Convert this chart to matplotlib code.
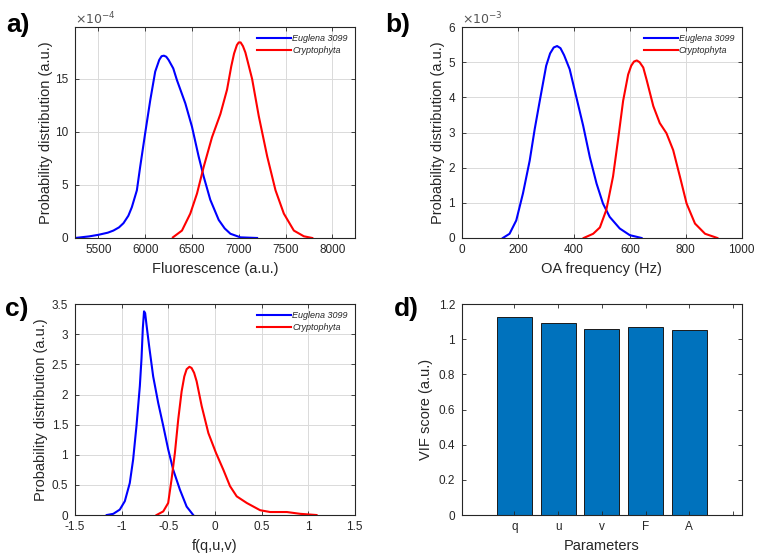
import numpy as np
import matplotlib
matplotlib.use('Agg')
import matplotlib.pyplot as plt
from matplotlib.ticker import FuncFormatter

plt.rcParams['font.family'] = ['Liberation Sans', 'DejaVu Sans']

# a) fluorescence, y in units of 1e-4
fl_eug_x = [5250, 5400, 5500, 5600, 5660, 5720, 5768, 5820, 5857, 5911, 5946, 6000, 6054, 6107,
            6150, 6175, 6200, 6225, 6250, 6300, 6339, 6429, 6500, 6571, 6625, 6696, 6786, 6850,
            6911, 7018, 7196]
fl_eug_y = [0, 0.15, 0.3, 0.5, 0.7, 1.0, 1.4, 2.1, 2.9, 4.5, 6.7, 9.9, 13, 15.7,
            16.8, 17.15, 17.2, 17.1, 16.8, 16.0, 14.9, 12.7, 10.5, 7.7, 5.8, 3.6, 1.7, 0.9,
            0.4, 0.06, 0]
fl_cry_x = [6296, 6393, 6482, 6554, 6625, 6714, 6804, 6875, 6920, 6950, 6980, 7000, 7020, 7045,
            7071, 7100, 7143, 7214, 7304, 7393, 7482, 7589, 7696, 7786]
fl_cry_y = [0.06, 0.7, 2.3, 4.2, 6.7, 9.5, 11.7, 14, 16.2, 17.4, 18.2, 18.45, 18.45, 18.1,
            17.5, 16.5, 15, 11.5, 7.7, 4.5, 2.3, 0.7, 0.16, 0]

# b) OA frequency, y in units of 1e-3
oa_eug_x = [146, 170, 194, 218, 242, 260, 278, 301, 315, 328, 340, 352, 365, 385, 409, 433,
            457, 481, 504, 528, 564, 600, 642]
oa_eug_y = [0, 0.12, 0.5, 1.27, 2.2, 3.1, 3.9, 4.9, 5.25, 5.42, 5.46, 5.4, 5.2, 4.8, 4.0, 3.2,
            2.3, 1.55, 0.98, 0.6, 0.27, 0.08, 0]
oa_cry_x = [435, 469, 493, 516, 540, 558, 576, 594, 605, 615, 625, 635, 648, 660, 684, 707,
            731, 755, 779, 803, 833, 869, 913]
oa_cry_y = [0, 0.12, 0.3, 0.8, 1.75, 2.8, 3.9, 4.65, 4.9, 5.02, 5.05, 5.0, 4.85, 4.5, 3.75, 3.27,
            2.98, 2.5, 1.75, 0.98, 0.41, 0.12, 0]

# c) f(q,u,v)
f_eug_x = [-1.16, -1.09, -1.02, -0.966, -0.913, -0.877, -0.841, -0.805, -0.787, -0.773,
           -0.76, -0.748, -0.733, -0.705, -0.662, -0.608, -0.554, -0.501, -0.447, -0.375,
           -0.303, -0.232]
f_eug_y = [0, 0.02, 0.09, 0.23, 0.53, 0.92, 1.48, 2.14, 2.6, 3.1,
           3.38, 3.35, 3.15, 2.8, 2.3, 1.86, 1.48, 1.09, 0.75, 0.42,
           0.14, 0]
f_cry_x = [-0.626, -0.554, -0.501, -0.465, -0.429, -0.393, -0.357, -0.328, -0.303, -0.273,
           -0.25, -0.223, -0.196, -0.142, -0.07, 0.012, 0.091, 0.162, 0.234, 0.342, 0.485,
           0.592, 0.772, 0.915, 1.09]
f_cry_y = [0, 0.06, 0.2, 0.59, 1.03, 1.59, 2.05, 2.3, 2.42, 2.46,
           2.44, 2.36, 2.22, 1.81, 1.36, 1.03, 0.75, 0.48, 0.31, 0.2, 0.08, 0.05,
           0.05, 0.02, 0]

# d) VIF
params = ['q', 'u', 'v', 'F', 'A']
vif = [1.125, 1.09, 1.058, 1.068, 1.052]

species = ['Euglena 3099', 'Cryptophyta']
txt = '#262626'
fmt = FuncFormatter(lambda v, p: '%g' % v)

fig = plt.figure(figsize=(7.58, 5.58), dpi=100)
axa = fig.add_axes([0.099, 0.5735, 0.369, 0.378])
axb = fig.add_axes([0.6095, 0.5735, 0.369, 0.378])
axc = fig.add_axes([0.099, 0.077, 0.369, 0.378])
axd = fig.add_axes([0.6095, 0.077, 0.369, 0.378])


def style(ax, grid=True):
    for s in ax.spines.values():
        s.set_color(txt)
        s.set_linewidth(0.8)
    ax.tick_params(direction='in', top=True, right=True, labelsize=8.5, colors=txt,
                   length=3, width=0.6)
    ax.tick_params(axis='x', pad=4.5)
    ax.tick_params(axis='y', pad=5)
    ax.xaxis.set_major_formatter(fmt)
    ax.yaxis.set_major_formatter(fmt)
    if grid:
        ax.grid(True, color='#dadada', linewidth=0.7)
        ax.set_axisbelow(True)


def curves(ax, x1, y1, x2, y2):
    ax.plot(x1, y1, color='#0000ff', lw=1.5, label=species[0])
    ax.plot(x2, y2, color='#ff0000', lw=1.5, label=species[1])
    leg = ax.legend(loc='upper right', frameon=False, fontsize=6.5, handlelength=3.8,
                    handletextpad=0.1, labelspacing=0.35, borderaxespad=0.4)
    for t in leg.get_texts():
        t.set_fontstyle('italic')
        t.set_color(txt)


curves(axa, fl_eug_x, fl_eug_y, fl_cry_x, fl_cry_y)
style(axa)
axa.set_xlim(5250, 8240)
axa.set_ylim(0, 19.9)
axa.set_xticks([5500, 6000, 6500, 7000, 7500, 8000])
axa.set_yticks([0, 5, 10, 15])
axa.set_xlabel('Fluorescence (a.u.)', fontsize=10.5, color=txt)
axa.set_ylabel('Probability distribution (a.u.)', fontsize=10.5, color=txt)
axa.yaxis.set_label_coords(-0.079, 0.5)
axa.text(0, 1.015, r'$\times10^{-4}$', transform=axa.transAxes, fontsize=9, color='#555555')

curves(axb, oa_eug_x, oa_eug_y, oa_cry_x, oa_cry_y)
style(axb)
axb.set_xlim(0, 1000)
axb.set_ylim(0, 6)
axb.set_xticks([0, 200, 400, 600, 800, 1000])
axb.set_yticks([0, 1, 2, 3, 4, 5, 6])
axb.set_xlabel('OA frequency (Hz)', fontsize=10.5, color=txt)
axb.set_ylabel('Probability distribution (a.u.)', fontsize=10.5, color=txt)
axb.yaxis.set_label_coords(-0.061, 0.5)
axb.text(0, 1.015, r'$\times10^{-3}$', transform=axb.transAxes, fontsize=9, color='#555555')

curves(axc, f_eug_x, f_eug_y, f_cry_x, f_cry_y)
style(axc)
axc.set_xlim(-1.5, 1.5)
axc.set_ylim(0, 3.5)
axc.set_xticks(np.arange(-1.5, 1.51, 0.5))
axc.set_yticks(np.arange(0, 3.51, 0.5))
axc.set_xlabel('f(q,u,v)', fontsize=10.5, color=txt)
axc.set_ylabel('Probability distribution (a.u.)', fontsize=10.5, color=txt)
axc.yaxis.set_label_coords(-0.096, 0.5)

pos = np.arange(1, len(params) + 1)
axd.bar(pos, vif, width=0.8, color='#0072bd', edgecolor='#1a1a1a', linewidth=0.7)
style(axd, grid=False)
axd.set_xlim(-0.2, 6.2)
axd.set_ylim(0, 1.2)
axd.set_xticks(list(pos) + [6])
axd.set_xticklabels(params + [''])
axd.set_yticks(np.arange(0, 1.21, 0.2))
axd.set_xlabel('Parameters', fontsize=10.5, color=txt)
axd.set_ylabel('VIF score (a.u.)', fontsize=10.5, color=txt)
axd.yaxis.set_label_coords(-0.104, 0.5)

for lab, x, y in [('a)', 0.008, 0.955), ('b)', 0.508, 0.955), ('c)', 0.006, 0.446), ('d)', 0.52, 0.446)]:
    fig.text(x, y, lab, fontsize=19, fontweight='bold', va='center', ha='left')

fig.savefig('out.png', dpi=100)
